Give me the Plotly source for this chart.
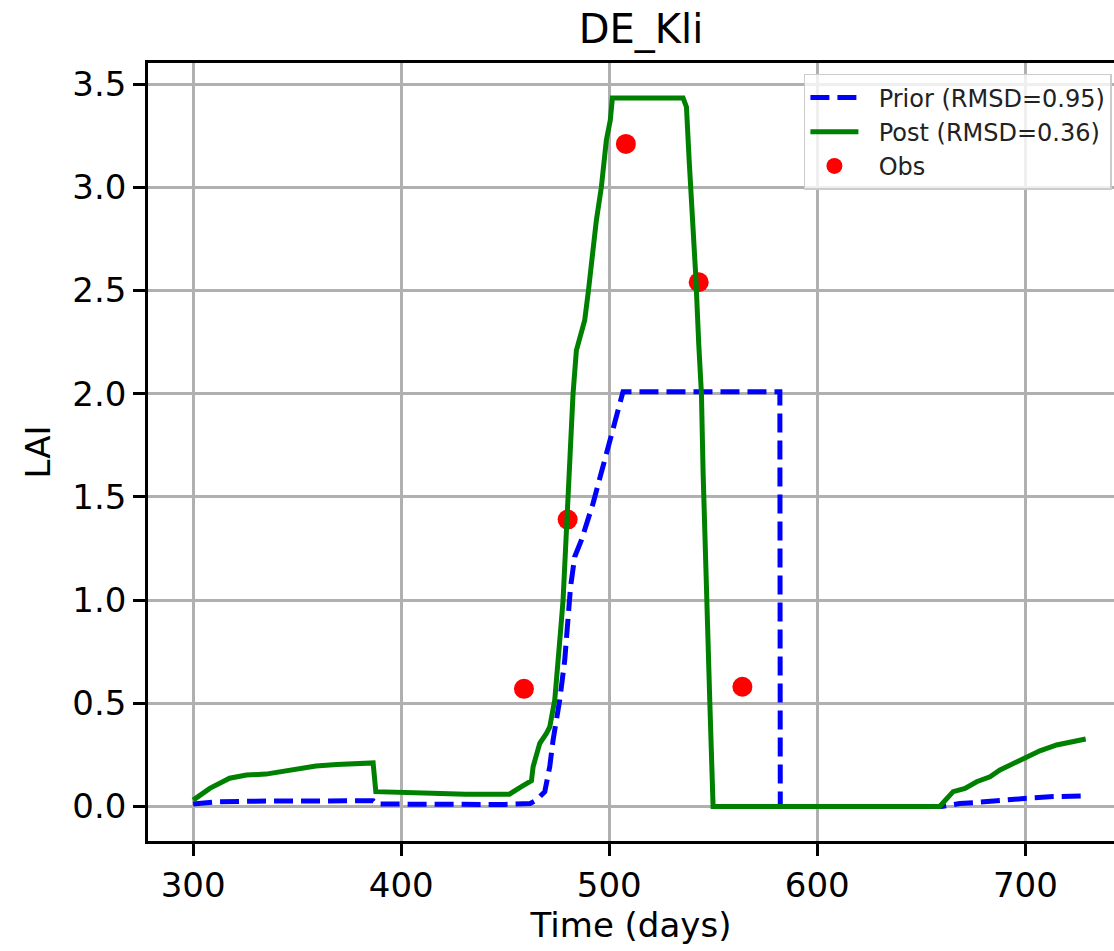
import plotly.graph_objects as go

# ---- data ----
prior_days = [300, 311, 330, 386.5, 388, 400, 450, 462, 465, 469, 471.4, 473, 476.2,
              478.6, 480.2, 481.4, 483.4, 486.6, 492.2, 497, 500.2, 504.2, 506.6,
              582, 582.2, 659.7, 668.5, 675, 688, 700.6, 713.4, 727]
prior_lai = [0.012, 0.023, 0.026, 0.028, 0.012, 0.011, 0.010, 0.015, 0.031, 0.072,
             0.193, 0.322, 0.516, 0.709, 0.919, 1.064, 1.21, 1.29, 1.468, 1.646,
             1.759, 1.904, 2.009, 2.009, 0.0, 0.0, 0.015, 0.019, 0.031, 0.040,
             0.048, 0.051]

post_days = [300, 308, 317.5, 325.6, 335, 343, 351, 359, 369, 378.5, 386.5, 387.8,
             399, 415, 431, 447, 452, 457, 462.6, 463.4, 466.6, 469.8, 471.4, 473.8,
             475.4, 476.5, 477.8, 478.9, 479.7, 481, 482.1, 482.6, 484.2, 485.8,
             488.2, 490, 491.4, 493.8, 496.2, 498.6, 500.5, 501.5, 535.5, 537.1,
             538.4, 540, 541.6, 543, 544.3, 545.1, 546.7, 548.3, 549.9, 658.8,
             665.3, 671, 676.6, 683, 687.8, 694.2, 700.6, 707, 715, 721.4, 729]
post_lai = [0.031, 0.088, 0.137, 0.153, 0.157, 0.169, 0.182, 0.196, 0.203, 0.207,
            0.211, 0.072, 0.067, 0.064, 0.059, 0.056, 0.060, 0.092, 0.125, 0.193,
            0.306, 0.354, 0.386, 0.516, 0.677, 0.839, 1.0, 1.242, 1.387, 1.646,
            1.888, 2.001, 2.21, 2.275, 2.356, 2.50, 2.646, 2.84, 3.0, 3.228, 3.325,
            3.432, 3.432, 3.389, 3.131, 2.889, 2.566, 2.243, 2.0, 1.62, 1.0, 0.516,
            0.0, 0.0, 0.072, 0.088, 0.12, 0.144, 0.177, 0.209, 0.238, 0.27, 0.298,
            0.314, 0.327]

obs_days = [459, 480, 508, 543, 564]
obs_lai = [0.57, 1.39, 3.21, 2.54, 0.58]

title_text = "DE_Kli"
x_ticks = [300, 400, 500, 600, 700]
y_ticks = [0.0, 0.5, 1.0, 1.5, 2.0, 2.5, 3.0, 3.5]
label_prior = "Prior (RMSD=0.95)"
label_post = "Post (RMSD=0.36)"
label_obs = "Obs"

FONT = "DejaVu Sans"
PAD = "\u00a0\u00a0"  # small gap between legend symbol and text

fig = go.Figure()
fig.add_trace(go.Scatter(x=obs_days, y=obs_lai, mode="markers", name=PAD + label_obs,
                         marker=dict(color="#ff0000", size=20, line=dict(width=0)),
                         legendrank=3))
fig.add_trace(go.Scatter(x=prior_days, y=prior_lai, mode="lines", name=PAD + label_prior,
                         line=dict(color="#0000ff", width=5, dash="19px,8px"),
                         legendrank=1))
fig.add_trace(go.Scatter(x=post_days, y=post_lai, mode="lines", name=PAD + label_post,
                         line=dict(color="#008000", width=5),
                         legendrank=2))

axis_common = dict(
    showgrid=True, gridcolor="#b0b0b0", gridwidth=2.5,
    zeroline=False, showline=True, linecolor="black", linewidth=2.5,
    ticks="outside", ticklen=12, tickwidth=2.5, tickcolor="black",
    tickfont=dict(family=FONT, size=34, color="black"),
)

fig.update_layout(
    width=1114, height=951,
    margin=dict(l=148, r=0, t=63, b=110, autoexpand=False),
    paper_bgcolor="white", plot_bgcolor="white",
    font=dict(family=FONT, color="black"),
    title=dict(text=title_text, font=dict(family=FONT, size=40, color="black"),
               xref="paper", x=0.5104, xanchor="center",
               yref="container", y=0.9695, yanchor="middle"),
    xaxis=dict(range=[278.3, 742.6], tickvals=x_ticks,
               ticktext=[str(v) for v in x_ticks], mirror=True,
               title=dict(text="Time (days)", font=dict(family=FONT, size=34), standoff=6),
               **axis_common),
    yaxis=dict(range=[-0.167, 3.602], tickvals=y_ticks,
               ticktext=[f"{v:.1f}" for v in y_ticks], mirror=False,
               title=dict(text="LAI", font=dict(family=FONT, size=34), standoff=12),
               **axis_common),
    legend=dict(x=0.679, y=0.986, xanchor="left", yanchor="top",
                bgcolor="rgba(255,255,255,0.8)", bordercolor="#cccccc", borderwidth=1.5,
                font=dict(family=FONT, size=24, color="#222222"),
                itemwidth=48, traceorder="normal"),
    showlegend=True,
)

fig.write_html("out.html",
               config={"displayModeBar": False},
               post_script="document.body.style.margin='0px';document.body.style.overflow='hidden';")
